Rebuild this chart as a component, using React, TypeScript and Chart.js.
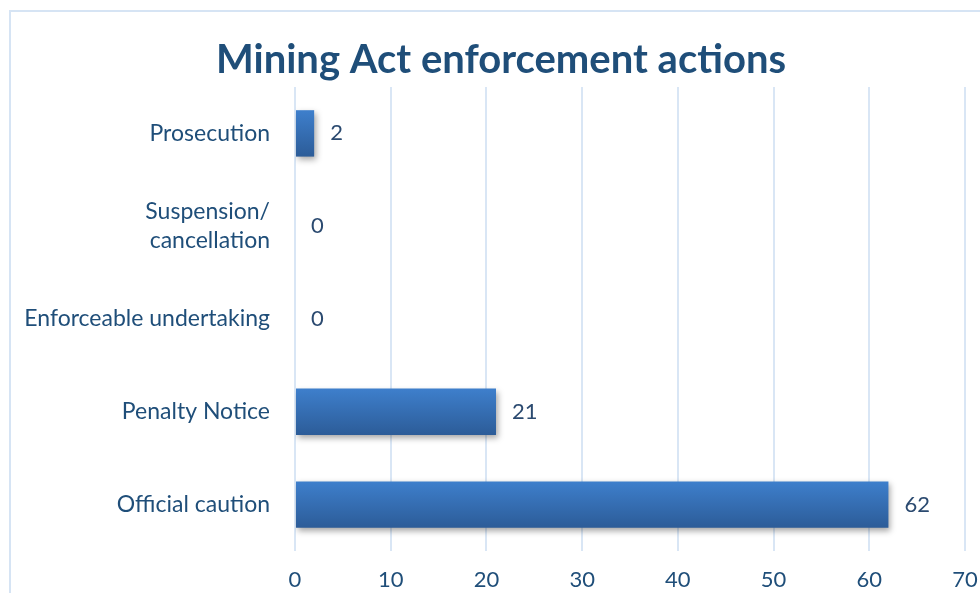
import React, { useEffect, useRef } from "react";
import { Chart, registerables } from "chart.js";

Chart.register(...registerables);

const categories: (string | string[])[] = [
  "Prosecution",
  ["Suspension/", "cancellation"],
  "Enforceable undertaking",
  "Penalty Notice",
  "Official caution",
];
const values: number[] = [2, 0, 0, 21, 62];
const xTicks: number[] = [0, 10, 20, 30, 40, 50, 60, 70];
const titleText = "Mining Act enforcement actions";

const TEXT = "#1f4e79";
const FONT = "Lato, 'Open Sans', sans-serif";

export default function App() {
  const ref = useRef<HTMLCanvasElement | null>(null);

  useEffect(() => {
    document.body.style.margin = "0";
    document.body.style.overflow = "hidden";
    const canvas = ref.current!;

    const shadowPlugin = {
      id: "barShadow",
      beforeDatasetDraw(chart: any) {
        const c = chart.ctx;
        c.save();
        c.shadowColor = "rgba(0,0,0,0.35)";
        c.shadowBlur = 6;
        c.shadowOffsetX = 2;
        c.shadowOffsetY = 3;
      },
      afterDatasetDraw(chart: any) {
        chart.ctx.restore();
      },
    };

    const labelPlugin = {
      id: "valueLabels",
      afterDatasetsDraw(chart: any) {
        const c = chart.ctx;
        const meta = chart.getDatasetMeta(0);
        c.save();
        c.font = `22px ${FONT}`;
        c.fillStyle = "#2b4a70";
        c.textAlign = "left";
        c.textBaseline = "middle";
        meta.data.forEach((bar: any, i: number) => {
          c.fillText(String(values[i]), bar.x + 16, bar.y);
        });
        // title
        c.font = `bold 40px ${FONT}`;
        c.fillStyle = TEXT;
        c.textAlign = "center";
        c.textBaseline = "alphabetic";
        c.fillText(titleText, 501, 73);
        c.restore();
      },
    };

    const chart = new Chart(canvas, {
      type: "bar",
      data: {
        labels: categories,
        datasets: [
          {
            data: values,
            barPercentage: 0.5,
            categoryPercentage: 1,
            borderWidth: 0,
            backgroundColor: (ctx: any) => {
              const ch = ctx.chart;
              if (!ch.chartArea) return "#3a72b8";
              const y = ch.scales.y.getPixelForValue(ctx.dataIndex);
              const h = (ch.chartArea.bottom - ch.chartArea.top) / categories.length / 4;
              const g = ch.ctx.createLinearGradient(0, y - h, 0, y + h);
              g.addColorStop(0, "#3e7fcc");
              g.addColorStop(1, "#2c5c98");
              return g;
            },
          },
        ],
      },
      options: {
        indexAxis: "y",
        responsive: false,
        animation: false,
        layout: { padding: { left: 0, right: 15, top: 87, bottom: 0 } },
        plugins: {
          legend: { display: false },
          tooltip: { enabled: false },
          title: { display: false },
        },
        scales: {
          x: {
            min: 0,
            max: 70,
            afterBuildTicks: (s: any) => {
              s.ticks = xTicks.map((v) => ({ value: v }));
            },
            afterFit: (s: any) => {
              s.height = 620 - 551;
              s.paddingRight = 0;
              s.paddingLeft = 0;
            },
            grid: { color: "#d9e6f5", lineWidth: 2, drawTicks: false },
            border: { display: false },
            ticks: {
              color: TEXT,
              padding: 16,
              font: { family: FONT, size: 22 },
            },
          },
          y: {
            afterFit: (s: any) => {
              s.width = 295;
              s.paddingTop = 0;
              s.paddingBottom = 0;
            },
            grid: { display: false, drawTicks: false },
            border: { display: false },
            ticks: {
              color: TEXT,
              padding: 25,
              font: { family: FONT, size: 23, lineHeight: 1.25 },
            },
          },
        },
      },
      plugins: [shadowPlugin, labelPlugin],
    } as any);

    return () => chart.destroy();
  }, []);

  return (
    <div
      style={{
        position: "absolute",
        left: 0,
        top: 0,
        width: 980,
        height: 593,
        overflow: "hidden",
        background: "#fff",
      }}
    >
      <div
        style={{
          position: "absolute",
          left: 9,
          top: 10,
          width: 1200,
          height: 1200,
          border: "2px solid #d6e4f4",
        }}
      />
      <canvas
        ref={ref}
        width={980}
        height={620}
        style={{ position: "absolute", left: 0, top: 0 }}
      />
    </div>
  );
}
